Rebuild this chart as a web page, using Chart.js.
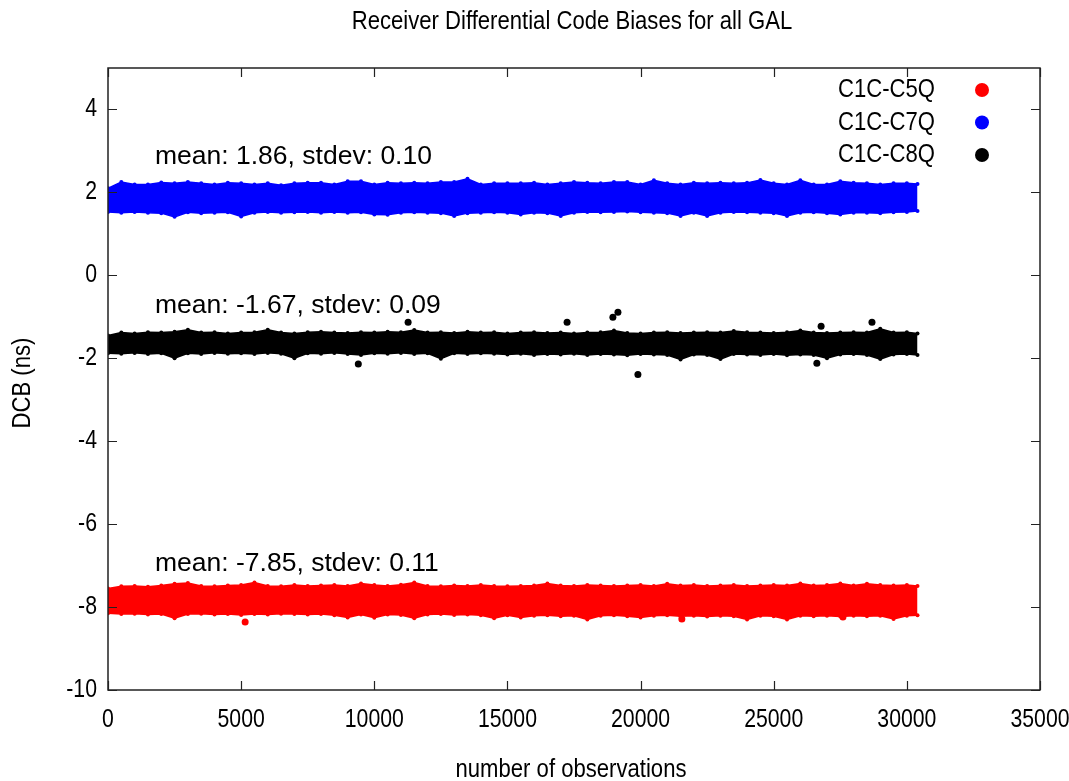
<!DOCTYPE html>
<html>
<head>
<meta charset="utf-8">
<script src="https://cdn.jsdelivr.net/npm/chart.js@4/dist/chart.umd.min.js"></script>
<style>
html,body{margin:0;padding:0;background:#fff;}
#wrap{width:1069px;height:781px;}
</style>
</head>
<body>
<div id="wrap"><canvas id="c" width="1069" height="781"></canvas></div>
<script>
// ---------- data ----------
const chartTitle = 'Receiver Differential Code Biases for all GAL';
const xAxisTitle = 'number of observations';
const yAxisTitle = 'DCB (ns)';
const seriesNames = ['C1C-C5Q', 'C1C-C7Q', 'C1C-C8Q'];
const seriesMeans = [-7.85, 1.86, -1.67];
const seriesStdevs = [0.11, 0.10, 0.09];

// observation index where the band envelopes were sampled
const obsGrid = [0,500,1000,1500,2000,2500,3000,3500,4000,4500,5000,5500,6000,6500,7000,7500,8000,8500,9000,9500,
  10000,10500,11000,11500,12000,12500,13000,13500,14000,14500,15000,15500,16000,16500,17000,17500,18000,18500,19000,19500,
  20000,20500,21000,21500,22000,22500,23000,23500,24000,24500,25000,25500,26000,26500,27000,27500,28000,28500,29000,29500,
  30000,30400];

// C1C-C5Q band (upper / lower edge, ns)
const c5qUpper = [-7.55,-7.50,-7.49,-7.51,-7.48,-7.44,-7.42,-7.49,-7.50,-7.48,-7.47,-7.41,-7.49,-7.50,-7.47,-7.49,-7.48,-7.47,-7.49,-7.43,
  -7.47,-7.49,-7.46,-7.41,-7.49,-7.50,-7.48,-7.49,-7.47,-7.49,-7.50,-7.49,-7.48,-7.43,-7.48,-7.49,-7.47,-7.48,-7.49,-7.48,
  -7.47,-7.49,-7.44,-7.48,-7.47,-7.49,-7.48,-7.47,-7.49,-7.48,-7.47,-7.48,-7.43,-7.48,-7.47,-7.43,-7.48,-7.44,-7.47,-7.48,
  -7.47,-7.49];
const c5qLower = [-8.15,-8.17,-8.16,-8.18,-8.17,-8.27,-8.17,-8.16,-8.18,-8.17,-8.19,-8.17,-8.18,-8.16,-8.17,-8.18,-8.17,-8.20,-8.25,-8.18,
  -8.26,-8.18,-8.19,-8.27,-8.18,-8.17,-8.19,-8.18,-8.20,-8.27,-8.20,-8.25,-8.21,-8.20,-8.22,-8.21,-8.30,-8.21,-8.20,-8.22,
  -8.25,-8.21,-8.20,-8.22,-8.21,-8.23,-8.21,-8.22,-8.30,-8.21,-8.22,-8.30,-8.21,-8.22,-8.21,-8.23,-8.21,-8.22,-8.21,-8.29,
  -8.21,-8.20];
const c5qOutlierObs = [5150, 21550, 27600];
const c5qOutlierVal = [-8.36, -8.29, -8.24];

// C1C-C7Q band
const c7qUpper = [2.10,2.25,2.19,2.19,2.24,2.22,2.25,2.22,2.19,2.23,2.22,2.19,2.22,2.17,2.22,2.23,2.23,2.19,2.27,2.27,
  2.19,2.23,2.22,2.23,2.22,2.25,2.25,2.33,2.19,2.22,2.22,2.22,2.23,2.19,2.22,2.25,2.23,2.22,2.25,2.25,
  2.19,2.29,2.22,2.19,2.23,2.22,2.23,2.22,2.23,2.30,2.22,2.19,2.29,2.19,2.19,2.27,2.23,2.22,2.19,2.22,
  2.22,2.20];
const c7qLower = [1.53,1.51,1.53,1.51,1.50,1.41,1.52,1.50,1.51,1.52,1.42,1.51,1.53,1.51,1.52,1.53,1.51,1.53,1.51,1.52,
  1.47,1.46,1.51,1.52,1.51,1.50,1.43,1.50,1.51,1.52,1.51,1.47,1.51,1.50,1.43,1.51,1.53,1.52,1.53,1.54,
  1.52,1.51,1.50,1.43,1.51,1.43,1.51,1.53,1.52,1.51,1.50,1.43,1.51,1.52,1.50,1.47,1.51,1.51,1.50,1.52,
  1.53,1.55];

// C1C-C8Q band
const c8qUpper = [-1.45,-1.38,-1.40,-1.37,-1.38,-1.36,-1.31,-1.38,-1.37,-1.40,-1.38,-1.37,-1.31,-1.38,-1.40,-1.37,-1.36,-1.38,-1.39,-1.37,
  -1.38,-1.36,-1.37,-1.32,-1.38,-1.37,-1.39,-1.36,-1.38,-1.37,-1.40,-1.38,-1.37,-1.39,-1.38,-1.40,-1.38,-1.37,-1.33,-1.39,
  -1.40,-1.38,-1.37,-1.39,-1.38,-1.37,-1.38,-1.34,-1.37,-1.38,-1.39,-1.37,-1.33,-1.38,-1.39,-1.38,-1.37,-1.38,-1.29,-1.38,
  -1.37,-1.40];
const c8qLower = [-1.88,-1.89,-1.87,-1.90,-1.88,-2.00,-1.88,-1.90,-1.87,-1.89,-1.88,-1.90,-1.87,-1.89,-2.00,-1.88,-1.89,-1.87,-1.90,-1.92,
  -1.88,-1.89,-1.87,-1.90,-1.88,-2.01,-1.88,-1.90,-1.88,-1.89,-1.91,-1.89,-1.92,-1.90,-1.91,-1.89,-1.92,-1.90,-1.91,-1.93,
  -1.90,-1.91,-1.92,-2.03,-1.91,-1.92,-2.02,-1.90,-1.91,-1.92,-1.90,-1.93,-1.91,-1.92,-2.00,-1.91,-1.90,-1.92,-2.02,-1.91,
  -1.90,-1.92];
const c8qOutlierObs = [9400, 11270, 17240, 18960, 19150, 19900, 26620, 26780, 28690];
const c8qOutlierVal = [-2.14, -1.13, -1.13, -1.01, -0.89, -2.39, -2.12, -1.23, -1.13];

const xTickValues = [0, 5000, 10000, 15000, 20000, 25000, 30000, 35000];
const yTickValues = [-10, -8, -6, -4, -2, 0, 2, 4];

// ---------- styling ----------
const seriesColors = ['#ff0000', '#0000ff', '#000000'];
const fontFam = "'Liberation Sans', Arial, sans-serif";
const squeeze = 0.85;

function pts(xs, ys) { return xs.map((x, i) => ({ x: x, y: ys[i] })); }

function bandSets(upper, lower, color, name) {
  return [
    { label: name, data: pts(obsGrid, upper), borderColor: color, backgroundColor: color,
      borderWidth: 1.5, pointRadius: 2, pointHoverRadius: 2, pointBorderWidth: 0,
      pointBackgroundColor: color, fill: false, tension: 0 },
    { label: name + ' lower', data: pts(obsGrid, lower), borderColor: color, backgroundColor: color,
      borderWidth: 1.5, pointRadius: 2, pointHoverRadius: 2, pointBorderWidth: 0,
      pointBackgroundColor: color, fill: '-1', tension: 0 }
  ];
}

const datasets = [
  ...bandSets(c5qUpper, c5qLower, seriesColors[0], seriesNames[0]),
  ...bandSets(c7qUpper, c7qLower, seriesColors[1], seriesNames[1]),
  ...bandSets(c8qUpper, c8qLower, seriesColors[2], seriesNames[2]),
  { label: seriesNames[2] + ' outliers', data: pts(c8qOutlierObs, c8qOutlierVal), showLine: false,
    pointRadius: 3.5, pointBackgroundColor: seriesColors[2], pointBorderWidth: 0, borderColor: seriesColors[2], fill: false },
  { label: seriesNames[0] + ' outliers', data: pts(c5qOutlierObs, c5qOutlierVal), showLine: false,
    pointRadius: 3.5, pointBackgroundColor: seriesColors[0], pointBorderWidth: 0, borderColor: seriesColors[0], fill: false }
];

// condensed text (tall, narrow glyphs like the original)
function cText(ctx, txt, x, y, align, size, rot) {
  ctx.save();
  ctx.translate(x, y);
  if (rot) ctx.rotate(rot);
  ctx.scale(squeeze, 1);
  ctx.font = size + 'px ' + fontFam;
  ctx.textAlign = align;
  ctx.textBaseline = 'middle';
  ctx.fillText(txt, 0, 0);
  ctx.restore();
}

const decor = {
  id: 'decor',
  afterDraw(chart) {
    const ctx = chart.ctx, a = chart.chartArea, sx = chart.scales.x, sy = chart.scales.y;
    ctx.save();
    // frame
    ctx.strokeStyle = '#222';
    ctx.lineWidth = 1.5;
    ctx.strokeRect(a.left, a.top, a.right - a.left, a.bottom - a.top);
    // inward ticks, mirrored
    const tl = 9;
    ctx.lineWidth = 1.2;
    ctx.beginPath();
    xTickValues.forEach(v => {
      const px = Math.round(sx.getPixelForValue(v)) + 0.5;
      ctx.moveTo(px, a.bottom); ctx.lineTo(px, a.bottom - tl);
      ctx.moveTo(px, a.top); ctx.lineTo(px, a.top + tl);
    });
    yTickValues.forEach(v => {
      const py = Math.round(sy.getPixelForValue(v)) + 0.5;
      ctx.moveTo(a.left, py); ctx.lineTo(a.left + tl, py);
      ctx.moveTo(a.right, py); ctx.lineTo(a.right - tl, py);
    });
    ctx.stroke();

    ctx.fillStyle = '#000';
    // tick labels
    xTickValues.forEach(v => cText(ctx, String(v), sx.getPixelForValue(v), a.bottom + 30, 'center', 25));
    yTickValues.forEach(v => cText(ctx, String(v), a.left - 11, sy.getPixelForValue(v), 'right', 25));
    // title and axis titles
    cText(ctx, chartTitle, 572, 22, 'center', 26);
    cText(ctx, xAxisTitle, 571, 770, 'center', 26);
    cText(ctx, yAxisTitle, 23, 383, 'center', 26, -Math.PI / 2);

    // legend
    [0, 1, 2].forEach(i => {
      const y = 90 + i * 32.5;
      ctx.fillStyle = '#000';
      cText(ctx, seriesNames[i], 935, y, 'right', 26);
      ctx.fillStyle = seriesColors[i];
      ctx.beginPath(); ctx.arc(982, y, 7, 0, Math.PI * 2); ctx.fill();
    });

    // mean / stdev annotations
    ctx.fillStyle = '#000';
    ctx.font = '26.5px ' + fontFam;
    ctx.textAlign = 'left';
    ctx.textBaseline = 'middle';
    const annY = [-6.96, 2.87, -0.72];
    [0, 1, 2].forEach(i => {
      const txt = 'mean: ' + seriesMeans[i].toFixed(2) + ', stdev: ' + seriesStdevs[i].toFixed(2);
      ctx.fillText(txt, sx.getPixelForValue(1765), sy.getPixelForValue(annY[i]));
    });
    ctx.restore();
  }
};

new Chart(document.getElementById('c'), {
  type: 'line',
  data: { datasets: datasets },
  options: {
    responsive: false,
    devicePixelRatio: 1,
    animation: false,
    events: [],
    layout: { padding: { left: 0, right: 29, top: 68, bottom: 0 } },
    plugins: { legend: { display: false }, title: { display: false }, tooltip: { enabled: false } },
    scales: {
      x: {
        type: 'linear', min: 0, max: 35000,
        afterFit(s) { s.height = 91; s.paddingLeft = 0; s.paddingRight = 0; },
        afterBuildTicks(s) { s.ticks = xTickValues.map(v => ({ value: v })); },
        grid: { display: false, drawTicks: false },
        border: { display: false },
        ticks: { display: false }
      },
      y: {
        type: 'linear', min: -10, max: 5,
        afterFit(s) { s.width = 108; s.paddingTop = 0; s.paddingBottom = 0; },
        afterBuildTicks(s) { s.ticks = yTickValues.map(v => ({ value: v })); },
        grid: { display: false, drawTicks: false },
        border: { display: false },
        ticks: { display: false }
      }
    }
  },
  plugins: [decor]
});
</script>
</body>
</html>
